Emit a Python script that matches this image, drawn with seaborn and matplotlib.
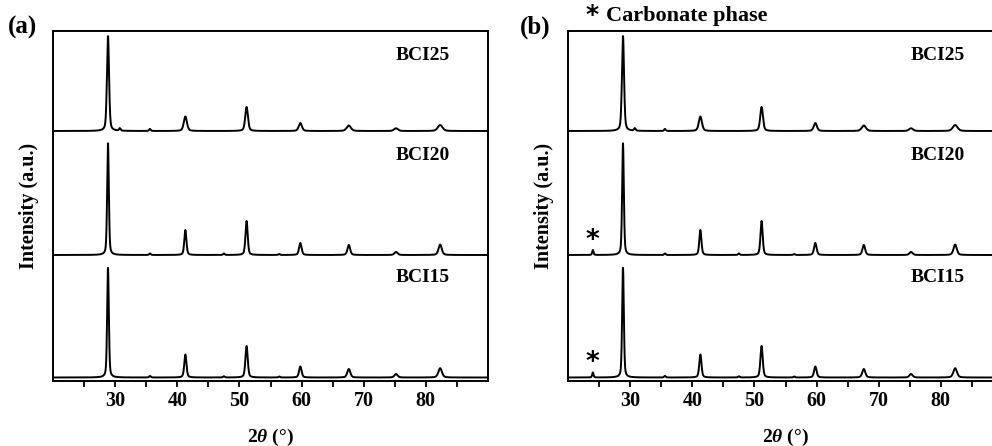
import numpy as np
import pandas as pd
from matplotlib import pyplot as plt
import seaborn as sns

# peak list: 2theta position, FWHM (deg)
peak_pos = [28.85, 30.75, 35.6, 41.3, 47.5, 51.15, 56.4, 59.8, 67.6, 75.2, 82.3]
width_25 = [0.40, 0.30, 0.30, 0.60, 0.40, 0.52, 0.40, 0.60, 0.80, 0.75, 0.90]
width_20 = [0.32, 0.30, 0.30, 0.40, 0.30, 0.42, 0.30, 0.48, 0.52, 0.60, 0.62]
width_15 = [0.32, 0.30, 0.30, 0.42, 0.30, 0.44, 0.30, 0.48, 0.58, 0.60, 0.68]

# peak heights (a.u.)
height_25 = [95, 2.5, 2.0, 14.5, 0.0, 24, 0.0, 8.0, 5.5, 2.7, 6.0]
height_20 = [112, 0.0, 1.5, 25, 1.5, 34, 1.0, 12, 10, 3.0, 10.5]
height_15 = [110, 0.0, 1.5, 23, 1.2, 31.5, 1.0, 11, 8.5, 3.5, 9.3]

# carbonate reflection seen only in panel (b)
carb_pos = 24.0
carb_height = 5.0
carb_width = 0.25

samples = ['BCI15', 'BCI20', 'BCI25']
offsets = [3.5, 126, 250]
label_y = [104, 226, 325]

two_theta = np.arange(20, 90.01, 0.02)


def pattern(heights, widths, carbonate=False):
    y = np.zeros_like(two_theta)
    pos = list(peak_pos)
    hs = list(heights)
    ws = list(widths)
    if carbonate:
        pos.append(carb_pos)
        hs.append(carb_height)
        ws.append(carb_width)
    for p, h, w in zip(pos, hs, ws):
        if h == 0:
            continue
        g = np.exp(-4 * np.log(2) * ((two_theta - p) / w) ** 2)
        lor = 1 / (1 + 4 * ((two_theta - p) / w) ** 2)
        y += h * (0.6 * g + 0.4 * lor)
    return y


sns.set_style('ticks')
plt.rcParams['font.family'] = ['Liberation Serif', 'DejaVu Serif']
plt.rcParams['font.weight'] = 'bold'
plt.rcParams['text.color'] = 'black'
plt.rcParams['axes.labelcolor'] = 'black'
plt.rcParams['xtick.color'] = 'black'
plt.rcParams['mathtext.fontset'] = 'custom'
plt.rcParams['mathtext.it'] = 'Liberation Serif:bold:italic'
plt.rcParams['mathtext.rm'] = 'Liberation Serif:bold'

fig = plt.figure(figsize=(9.92, 4.46), dpi=100)
ax_a = fig.add_axes([53 / 992, 1 - 381 / 446, 435 / 992, 350 / 446])
ax_b = fig.add_axes([568 / 992, 1 - 381 / 446, 435 / 992, 350 / 446])

heights = {'BCI15': height_15, 'BCI20': height_20, 'BCI25': height_25}
widths = {'BCI15': width_15, 'BCI20': width_20, 'BCI25': width_25}

for ax, carb in [(ax_a, False), (ax_b, True)]:
    rows = []
    for s, off in zip(samples, offsets):
        use_carb = carb and s != 'BCI25'
        df = pd.DataFrame({'two_theta': two_theta,
                           'intensity': pattern(heights[s], widths[s], use_carb) + off,
                           'sample': s})
        rows.append(df)
    data = pd.concat(rows)
    sns.lineplot(data=data, x='two_theta', y='intensity', units='sample',
                 estimator=None, color='black', lw=1.4, ax=ax, legend=False)
    for s, ly in zip(samples, label_y):
        ax.text(79.5, ly, s, ha='center', va='center', fontsize=14, fontweight='bold')
    if carb:
        for s, off in zip(samples, offsets):
            if s != 'BCI25':
                ax.text(carb_pos, off + 14, '*', ha='center', va='center',
                        fontsize=19, fontweight='bold', family='DejaVu Sans')
    ax.set_xlim(20, 90)
    ax.set_ylim(0, 350)
    ax.set_xticks(np.arange(30, 81, 10))
    ax.set_xticks(np.arange(25, 90, 10), minor=True)
    ax.set_yticks([])
    ax.tick_params(axis='x', which='both', direction='out', length=4.5, width=1.3,
                   labelsize=14.5, pad=3)
    for lab in ax.get_xticklabels():
        lab.set_fontweight('bold')
    for sp in ax.spines.values():
        sp.set_linewidth(1.4)
        sp.set_color('black')
    ax.set_xlabel(r'2$\theta$ (°)', fontsize=14, fontweight='bold', labelpad=11)
    ax.set_ylabel('Intensity (a.u.)', fontsize=14.5, fontweight='bold', labelpad=10)

fig.text(8 / 992, 1 - 27 / 446, '(a)', fontsize=18, fontweight='bold', va='center')
fig.text(520 / 992, 1 - 27 / 446, '(b)', fontsize=18, fontweight='bold', va='center')
fig.text(586 / 992, 1 - 15 / 446, '*', fontsize=18, fontweight='bold', va='center',
         family='DejaVu Sans')
fig.text(606 / 992, 1 - 16 / 446, 'Carbonate phase', fontsize=16, fontweight='bold',
         va='center')

fig.savefig('out.png', dpi=100)
